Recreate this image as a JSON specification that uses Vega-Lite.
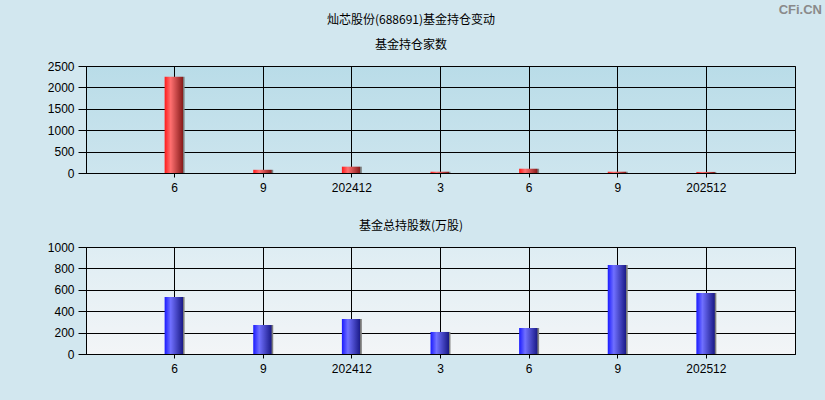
{
  "$schema": "https://vega.github.io/schema/vega-lite/v6.json",
  "autosize": "none",
  "padding": {"left": 86, "top": 66, "right": 30, "bottom": 334},
  "background": "#d2e7ef",
  "title": {"text": "CFi.CN", "anchor": "end", "frame": "group", "color": "#8a8a8a", "font": "Liberation Sans", "fontSize": 13, "fontWeight": "bold", "dx": 27, "dy": 8},
  "datasets": {
    "holders": [
      {"period": "2024-06", "funds": 2250},
      {"period": "2024-09", "funds": 75},
      {"period": "2024-12", "funds": 148},
      {"period": "2025-03", "funds": 30},
      {"period": "2025-06", "funds": 100},
      {"period": "2025-09", "funds": 30},
      {"period": "2025-12", "funds": 25}
    ],
    "shares": [
      {"period": "2024-06", "shares": 533},
      {"period": "2024-09", "shares": 271},
      {"period": "2024-12", "shares": 327},
      {"period": "2025-03", "shares": 206},
      {"period": "2025-06", "shares": 243},
      {"period": "2025-09", "shares": 832},
      {"period": "2025-12", "shares": 570}
    ]
  },
  "bounds": "flush",
  "spacing": 74,
  "vconcat": [
    {
      "width": 709,
      "height": 107,
      "title": {"text": ["灿芯股份(688691)基金持仓变动", "基金持仓家数"], "lineHeight": 25, "frame": "group", "anchor": "middle", "dx": -29.5, "offset": 8.5},
      "view": {"fill": {"gradient": "linear", "x1": 0, "y1": 0, "x2": 0, "y2": 1, "stops": [{"offset": 0, "color": "#b9dce8"}, {"offset": 1, "color": "#cde5ee"}]}},
      "data": {"name": "holders"},
      "mark": {"type": "bar", "width": 20, "color": {"gradient": "linear", "x1": 0, "y1": 0, "x2": 1, "y2": 0, "stops": [{"offset": 0, "color": "#ff1a1a"}, {"offset": 0.3, "color": "#ff7070"}, {"offset": 0.9, "color": "#8a1c1c"}, {"offset": 0.93, "color": "#777777"}, {"offset": 1, "color": "#888888"}]}},
      "encoding": {
        "x": {"field": "period", "type": "ordinal", "scale": {"paddingInner": 0, "paddingOuter": 0.5}, "axis": {"labelAngle": 0, "tickBand": "center", "bandPosition": 0.5, "labelExpr": "slice(datum.value,5)=='12' ? replace(datum.value,'-','') : toString(toNumber(slice(datum.value,5)))"}},
        "y": {"field": "funds", "type": "quantitative", "scale": {"domain": [0, 2500]}, "axis": {"values": [0, 500, 1000, 1500, 2000, 2500], "format": "d"}}
      }
    },
    {
      "width": 709,
      "height": 107,
      "title": {"text": "基金总持股数(万股)", "frame": "group", "anchor": "middle", "dx": -29.5, "offset": 8.5},
      "view": {"fill": {"gradient": "linear", "x1": 0, "y1": 0, "x2": 0, "y2": 1, "stops": [{"offset": 0, "color": "#deedf3"}, {"offset": 1, "color": "#f3f5f7"}]}},
      "data": {"name": "shares"},
      "mark": {"type": "bar", "width": 20, "color": {"gradient": "linear", "x1": 0, "y1": 0, "x2": 1, "y2": 0, "stops": [{"offset": 0, "color": "#1a1aff"}, {"offset": 0.3, "color": "#7070ff"}, {"offset": 0.9, "color": "#1c1c8a"}, {"offset": 0.93, "color": "#777777"}, {"offset": 1, "color": "#888888"}]}},
      "encoding": {
        "x": {"field": "period", "type": "ordinal", "scale": {"paddingInner": 0, "paddingOuter": 0.5}, "axis": {"labelAngle": 0, "tickBand": "center", "bandPosition": 0.5, "labelExpr": "slice(datum.value,5)=='12' ? replace(datum.value,'-','') : toString(toNumber(slice(datum.value,5)))"}},
        "y": {"field": "shares", "type": "quantitative", "scale": {"domain": [0, 1000]}, "axis": {"values": [0, 200, 400, 600, 800, 1000], "format": "d"}}
      }
    }
  ],
  "config": {
    "view": {"stroke": "#000000", "strokeWidth": 1},
    "axis": {"title": null, "grid": true, "gridColor": "#000000", "gridOpacity": 1, "gridWidth": 1, "domainColor": "#000000", "tickColor": "#000000", "labelColor": "#000000", "labelFont": "Liberation Sans", "labelFontSize": 12},
    "axisX": {"tickSize": 4, "labelPadding": 5},
    "axisY": {"tickSize": 8, "labelPadding": 4},
    "title": {"font": "Noto Sans CJK SC", "fontSize": 12, "fontWeight": "normal", "color": "#000000"}
  }
}
